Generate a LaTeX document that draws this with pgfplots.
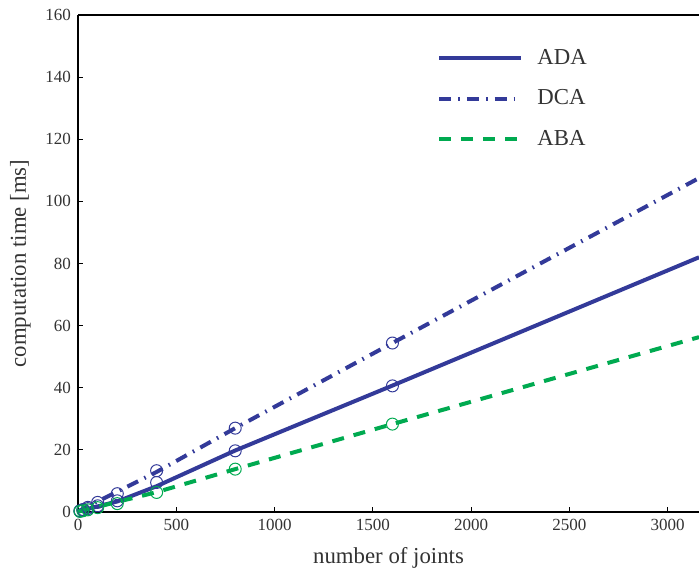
\documentclass[border=0pt]{standalone}
\usepackage{fontspec}
\setmainfont{Liberation Serif}
\usepackage{pgfplots}
\pgfplotsset{compat=1.18}
\definecolor{ada}{HTML}{333A99}
\definecolor{aba}{HTML}{00AA50}
\definecolor{tlab}{HTML}{333333}
\begin{document}
\begin{tikzpicture}
\begin{axis}[
  name=ax,
  scale only axis, width=310.5pt, height=248.5pt,
  xmin=0, xmax=3160, ymin=0, ymax=160,
  xtick={0,500,...,3000}, ytick={0,20,...,160},
  axis x line*=bottom, axis y line*=left,
  axis line style={line width=0.8pt, -},
  tick align=inside, major tick length=2.5pt,
  tick style={line width=0.5pt, black},
  tick label style={font=\fontsize{8.5}{10}\selectfont, text=tlab},
  /pgf/number format/assume math mode=true,
  scaled x ticks=false,
  xticklabel style={/pgf/number format/1000 sep={}},
  xlabel={number of joints}, ylabel={computation time [ms]},
  label style={font=\fontsize{11.4}{13}\selectfont, text=tlab},
  xlabel style={at={(axis description cs:0.5,0)}, anchor=base, yshift=-25.5pt},
  ylabel style={at={(axis description cs:0,0.5)}, anchor=base, yshift=26pt},
  clip=false,
  extra description/.code={\draw[line width=0.8pt] (rel axis cs:0,1) -- (rel axis cs:1,1);},
  legend style={draw=none, fill=none, at={(rel axis cs:0.578,1)}, anchor=north west, yshift=-15pt,
    font=\fontsize{11.4}{13}\selectfont, row sep=7.2pt, inner sep=0pt, text=tlab},
  legend cell align=left,
  legend image code/.code={\draw[#1] (0pt,0pt) -- (41pt,0pt); \path (46pt,0pt);},
]
% fitted curves
\addplot[ada, line width=2pt] coordinates {(0,0.2) (200,3.4) (400,8.3) (800,19.8) (1600,40.7) (3160,82)};
\addplot[ada, line width=2pt, dash pattern=on 6pt off 3.5pt on 0.8pt off 3.5pt] coordinates {(0,0.2) (400,12.9) (800,27.0) (1600,54.4) (3160,107.5)};
\addplot[aba, line width=2pt, dash pattern=on 6pt off 5pt] coordinates {(0,0.1) (400,6.4) (800,13.8) (1600,28.3) (3160,56.3)};
\legend{ADA, DCA, ABA}
% measured points
\addplot[ada, only marks, mark=o, mark size=3pt, mark options={line width=0.5pt}, forget plot]
  coordinates {(10,0.3) (25,0.6) (50,1.1) (100,2.0) (200,3.6) (400,9.5) (800,19.7) (1600,40.6)};
\addplot[ada, only marks, mark=o, mark size=3pt, mark options={line width=0.5pt}, forget plot]
  coordinates {(10,0.4) (25,0.8) (50,1.5) (100,3.1) (200,5.9) (400,13.3) (800,27.0) (1600,54.4)};
\addplot[aba, only marks, mark=o, mark size=3pt, mark options={line width=0.5pt}, forget plot]
  coordinates {(10,0.2) (25,0.4) (50,0.7) (100,1.4) (200,2.7) (400,6.3) (800,13.8) (1600,28.3)};
\end{axis}
\pgfresetboundingbox
\path[use as bounding box] ([xshift=-39pt,yshift=-28pt]ax.south west) rectangle ([yshift=7.5pt]ax.north east);
\end{tikzpicture}
\end{document}
